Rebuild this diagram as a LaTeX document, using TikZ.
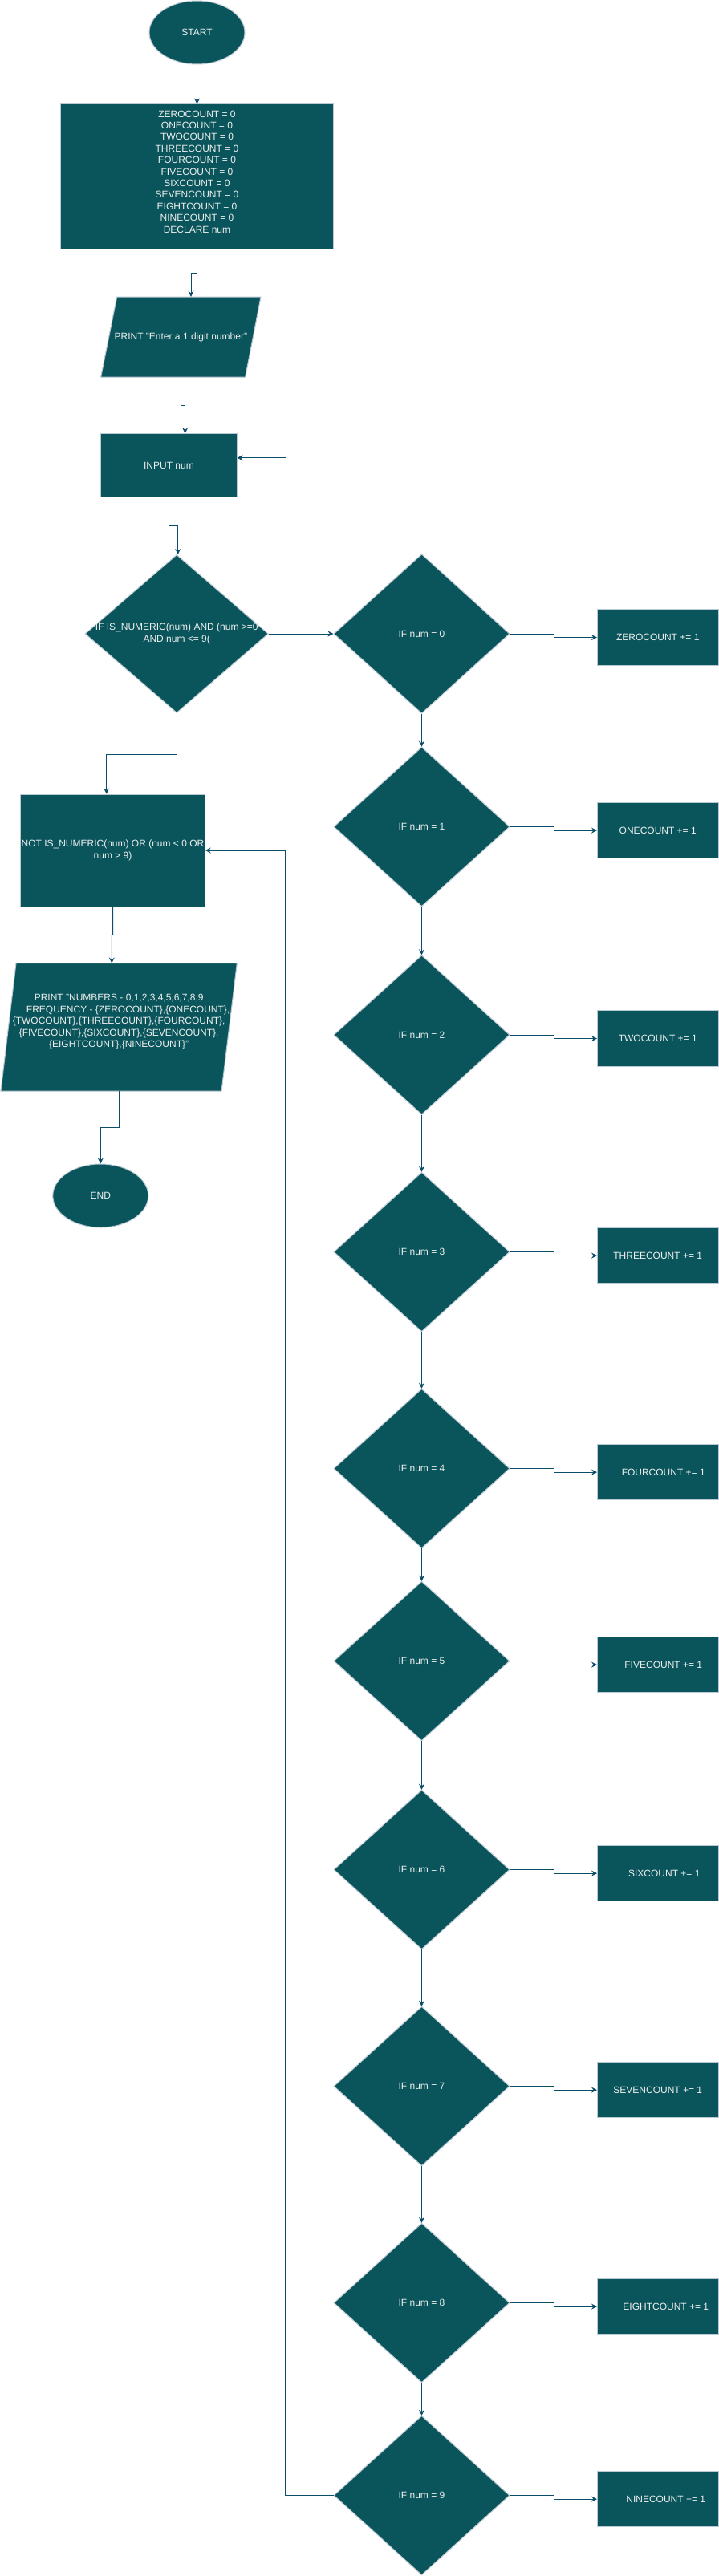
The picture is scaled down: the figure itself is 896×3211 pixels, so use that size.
\documentclass[tikz,border=0pt]{standalone}
\usepackage{fontspec}
\setmainfont{Liberation Sans}
\usetikzlibrary{shapes.geometric,arrows.meta,calc}
\definecolor{tealfill}{HTML}{09555B}
\definecolor{nodestroke}{HTML}{BAC8D3}
\definecolor{txtcol}{HTML}{EEEEEE}
\definecolor{conncol}{HTML}{0B4D6A}
\newcommand{\fsz}{\fontsize{12pt}{14.4pt}\selectfont}
\begin{document}
\begin{tikzpicture}[x=1pt,y=-1pt,
  base/.style={fill=tealfill, draw=nodestroke, line width=1pt, text=txtcol, font=\fsz, inner sep=0pt, align=center},
  term/.style={base, ellipse, minimum width=119pt, minimum height=79pt},
  procbox/.style={base, rectangle},
  decision/.style={base, diamond, minimum width=219pt, minimum height=198.5pt},
  shapefill/.style={fill=tealfill, draw=nodestroke, line width=1pt},
  txt/.style={text=txtcol, font=\fsz, align=center, inner sep=0pt},
  conn/.style={draw=conncol, line width=1pt, -{Stealth[length=7pt,width=7pt,inset=2.5pt]}}
]
\fill[white] (0,0) rectangle (896,3211);
\useasboundingbox (0,0) rectangle (896,3211);

% left column
\node[term] (start) at (245.5,40.5) {START};
\node[procbox, minimum width=340pt, minimum height=180pt] (init) at (245.5,220) {};
\node[txt] (inittext) at ([yshift=6pt]init.center) {ZEROCOUNT = 0\\ONECOUNT = 0\\TWOCOUNT = 0\\THREECOUNT = 0\\FOURCOUNT = 0\\FIVECOUNT = 0\\SIXCOUNT = 0\\SEVENCOUNT = 0\\EIGHTCOUNT = 0\\NINECOUNT = 0\\DECLARE num};

\path[shapefill] (145.7,370) -- (325,370) -- (305.7,470) -- (125.7,470) -- cycle;
\node[txt, minimum width=199.3pt, minimum height=100pt] (p1) at (225.35,420) {PRINT "Enter a 1 digit number"};

\node[procbox, minimum width=169.3pt, minimum height=79.3pt] (input) at (210.5,580.3) {INPUT num};

\node[decision, minimum width=228.3pt, minimum height=197pt] (valid) at (220.2,790) {};
\node[txt] (validtext) at (valid.center) {IF IS\_NUMERIC(num) AND (num >=0\\AND num <= 9(};

\node[procbox, minimum width=229.6pt, minimum height=140pt] (notbox) at (140.5,1060) {NOT IS\_NUMERIC(num) OR (num < 0 OR\\num > 9)};

\path[shapefill] (20,1200.7) -- (295.3,1200.7) -- (276,1360) -- (1,1360) -- cycle;
\node[txt, minimum width=294.3pt, minimum height=159.3pt] (printout) at (148.15,1280.35) {};
\node[txt] (printtext) at ([yshift=6.6pt]printout.center) {PRINT "NUMBERS - 0,1,2,3,4,5,6,7,8,9\\\hspace*{23pt}FREQUENCY - \{ZEROCOUNT\},\{ONECOUNT\},\\\{TWOCOUNT\},\{THREECOUNT\},\{FOURCOUNT\},\\\{FIVECOUNT\},\{SIXCOUNT\},\{SEVENCOUNT\},\\\{EIGHTCOUNT\},\{NINECOUNT\}"};

\node[term] (end) at (125.3,1490.5) {END};

% right column
\foreach \i/\cy/\lbl/\off in {0/790/ZERO/0, 1/1030.5/ONE/0, 2/1290/TWO/0, 3/1560.5/THREE/0, 4/1830.5/FOUR/14, 5/2070.5/FIVE/14, 6/2330.5/SIX/16, 7/2600.5/SEVEN/0, 8/2870.5/EIGHT/20, 9/3110.5/NINE/20} {
  \node[decision] (d\i) at (525.5,\cy) {IF num = \i};
  \node[procbox, minimum width=150.5pt, minimum height=69.3pt] (c\i) at (819.75,\cy+4.6) {\hspace*{\off pt}\lbl COUNT += 1};
  \draw[conn] (d\i.east) -- (690,\cy) -- (690,\cy+4.6) -- (c\i.west);
}
\foreach \i [evaluate=\i as \j using int(\i+1)] in {0,...,8} {
  \draw[conn] (d\i.south) -- (d\j.north);
}

% connectors
\draw[conn] (start.south) -- (init.north);
\draw[conn] (init.south) -- (245.5,340) -- (238,340) -- ([xshift=12.65pt]p1.north);
\draw[conn] (p1.south) -- (225.35,505) -- (230.7,505) -- ([xshift=20.2pt]input.north);
\draw[conn] (input.south) -- (210.5,655) -- (221.7,655) -- ([xshift=1.5pt]valid.north);
\draw[conn] (valid.east) -- (d0.west);
\draw[conn] (valid.east) -- (356.7,790) -- (356.7,570.7) -- ([yshift=9.6pt]input.east);
\draw[conn] (valid.south) -- (220.2,940) -- (132.7,940) -- ([xshift=-7.8pt]notbox.north);
\draw[conn] (notbox.south) -- (140.5,1165) -- (139.3,1165) -- ([xshift=-8.85pt]printout.north);
\draw[conn] (printout.south) -- (148.15,1405.4) -- (125.3,1405.4) -- (end.north);
\draw[conn] (d9.west) -- (355.3,3110.5) -- (355.3,1060) -- (notbox.east);
\end{tikzpicture}
\end{document}
